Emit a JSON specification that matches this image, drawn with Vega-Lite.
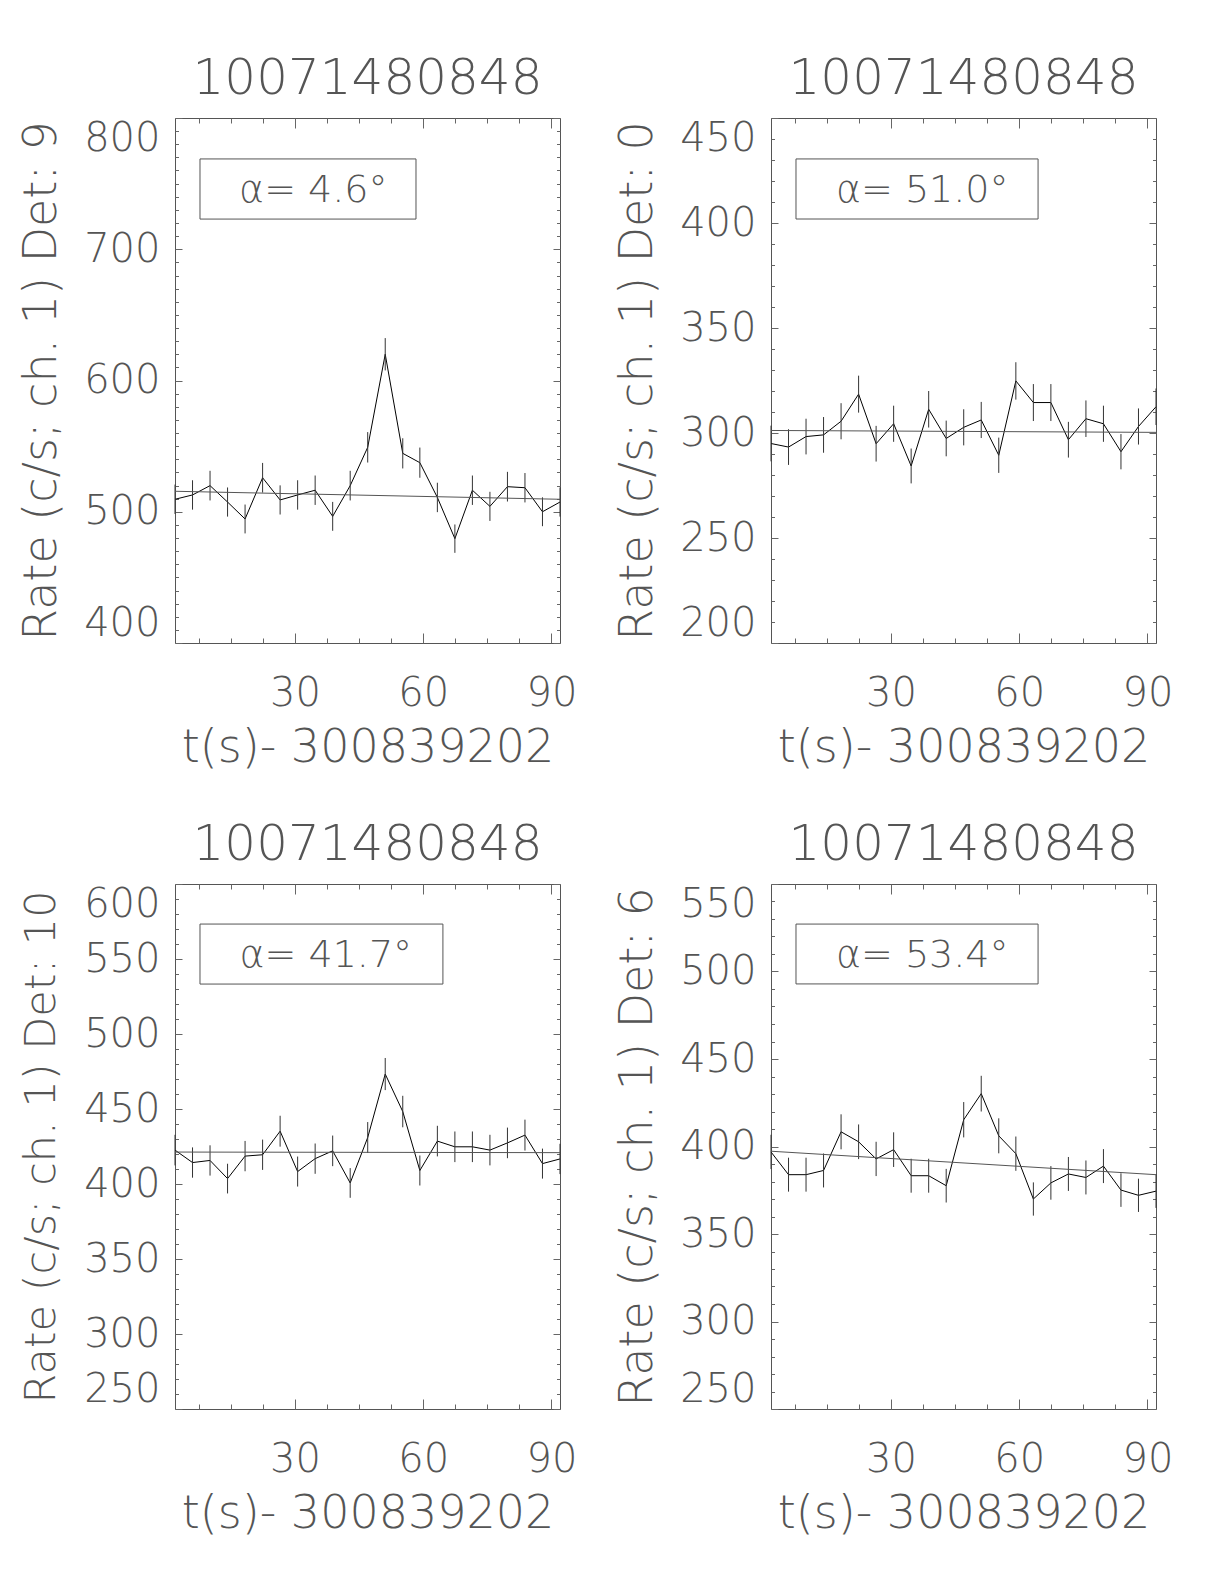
{
"$schema": "https://vega.github.io/schema/vega-lite/v6.json",
"padding": {"left": 18, "top": 53, "right": 0, "bottom": 0},
"background": "white",
"datasets": {
"lc": [
{"det":9,"t":1.9,"rate":509.5,"err":11.2},{"det":9,"t":6.0,"rate":512.8,"err":11.2},{"det":9,"t":10.1,"rate":519.9,"err":11.3},{"det":9,"t":14.2,"rate":507.4,"err":11.1},{"det":9,"t":18.3,"rate":494.5,"err":11.0},{"det":9,"t":22.4,"rate":525.9,"err":11.3},{"det":9,"t":26.5,"rate":509.0,"err":11.1},{"det":9,"t":30.6,"rate":512.8,"err":11.2},{"det":9,"t":34.7,"rate":516.4,"err":11.2},{"det":9,"t":38.8,"rate":496.5,"err":11.0},{"det":9,"t":42.9,"rate":519.9,"err":11.3},{"det":9,"t":47.0,"rate":549.1,"err":11.6},{"det":9,"t":51.1,"rate":620.0,"err":12.3},{"det":9,"t":55.2,"rate":544.5,"err":11.5},{"det":9,"t":59.2,"rate":537.4,"err":11.5},{"det":9,"t":63.3,"rate":510.9,"err":11.2},{"det":9,"t":67.4,"rate":479.5,"err":10.8},{"det":9,"t":71.5,"rate":516.4,"err":11.2},{"det":9,"t":75.6,"rate":504.1,"err":11.1},{"det":9,"t":79.7,"rate":519.1,"err":11.3},{"det":9,"t":83.8,"rate":518.3,"err":11.2},{"det":9,"t":87.9,"rate":500.0,"err":11.0},{"det":9,"t":92.0,"rate":507.4,"err":11.1},
{"det":0,"t":1.9,"rate":295.0,"err":8.5},{"det":0,"t":6.0,"rate":293.3,"err":8.5},{"det":0,"t":10.1,"rate":298.3,"err":8.5},{"det":0,"t":14.2,"rate":299.1,"err":8.5},{"det":0,"t":18.3,"rate":305.6,"err":8.6},{"det":0,"t":22.4,"rate":318.5,"err":8.8},{"det":0,"t":26.5,"rate":294.9,"err":8.5},{"det":0,"t":30.6,"rate":304.4,"err":8.6},{"det":0,"t":34.7,"rate":284.3,"err":8.3},{"det":0,"t":38.8,"rate":311.3,"err":8.7},{"det":0,"t":42.9,"rate":297.4,"err":8.5},{"det":0,"t":47.0,"rate":302.7,"err":8.6},{"det":0,"t":51.1,"rate":306.2,"err":8.6},{"det":0,"t":55.2,"rate":289.4,"err":8.4},{"det":0,"t":59.2,"rate":324.8,"err":8.9},{"det":0,"t":63.3,"rate":314.5,"err":8.8},{"det":0,"t":67.4,"rate":314.5,"err":8.8},{"det":0,"t":71.5,"rate":296.8,"err":8.5},{"det":0,"t":75.6,"rate":306.8,"err":8.7},{"det":0,"t":79.7,"rate":304.4,"err":8.6},{"det":0,"t":83.8,"rate":291.1,"err":8.4},{"det":0,"t":87.9,"rate":303.1,"err":8.6},{"det":0,"t":92.0,"rate":312.5,"err":8.7},
{"det":10,"t":1.9,"rate":422.6,"err":10.2},{"det":10,"t":6.0,"rate":414.3,"err":10.1},{"det":10,"t":10.1,"rate":415.7,"err":10.1},{"det":10,"t":14.2,"rate":403.6,"err":9.9},{"det":10,"t":18.3,"rate":418.6,"err":10.1},{"det":10,"t":22.4,"rate":419.5,"err":10.1},{"det":10,"t":26.5,"rate":435.2,"err":10.3},{"det":10,"t":30.6,"rate":408.3,"err":10.0},{"det":10,"t":34.7,"rate":416.9,"err":10.1},{"det":10,"t":38.8,"rate":422.1,"err":10.2},{"det":10,"t":42.9,"rate":400.7,"err":9.9},{"det":10,"t":47.0,"rate":431.0,"err":10.3},{"det":10,"t":51.1,"rate":473.3,"err":10.7},{"det":10,"t":55.2,"rate":448.3,"err":10.5},{"det":10,"t":59.2,"rate":409.0,"err":10.0},{"det":10,"t":63.3,"rate":428.6,"err":10.2},{"det":10,"t":67.4,"rate":424.8,"err":10.2},{"det":10,"t":71.5,"rate":424.8,"err":10.2},{"det":10,"t":75.6,"rate":422.6,"err":10.2},{"det":10,"t":79.7,"rate":427.4,"err":10.2},{"det":10,"t":83.8,"rate":432.6,"err":10.3},{"det":10,"t":87.9,"rate":413.6,"err":10.0},{"det":10,"t":92.0,"rate":416.7,"err":10.1},
{"det":6,"t":1.9,"rate":396.9,"err":9.8},{"det":6,"t":6.0,"rate":383.9,"err":9.7},{"det":6,"t":10.1,"rate":383.9,"err":9.7},{"det":6,"t":14.2,"rate":386.3,"err":9.7},{"det":6,"t":18.3,"rate":408.4,"err":10.0},{"det":6,"t":22.4,"rate":402.7,"err":9.9},{"det":6,"t":26.5,"rate":392.9,"err":9.8},{"det":6,"t":30.6,"rate":398.2,"err":9.9},{"det":6,"t":34.7,"rate":383.3,"err":9.7},{"det":6,"t":38.8,"rate":383.3,"err":9.7},{"det":6,"t":42.9,"rate":377.6,"err":9.6},{"det":6,"t":47.0,"rate":415.3,"err":10.1},{"det":6,"t":51.1,"rate":430.2,"err":10.2},{"det":6,"t":55.2,"rate":406.1,"err":10.0},{"det":6,"t":59.2,"rate":395.9,"err":9.8},{"det":6,"t":63.3,"rate":370.0,"err":9.5},{"det":6,"t":67.4,"rate":379.2,"err":9.6},{"det":6,"t":71.5,"rate":384.3,"err":9.7},{"det":6,"t":75.6,"rate":382.3,"err":9.7},{"det":6,"t":79.7,"rate":388.8,"err":9.7},{"det":6,"t":83.8,"rate":375.1,"err":9.6},{"det":6,"t":87.9,"rate":372.1,"err":9.5},{"det":6,"t":92.0,"rate":374.5,"err":9.6}
],
"fit": [
{"det":9,"t":1.9,"fit":515.6},{"det":9,"t":92.0,"fit":509.5},
{"det":0,"t":1.9,"fit":301.2},{"det":0,"t":92.0,"fit":300.3},
{"det":10,"t":1.9,"fit":421.3},{"det":10,"t":92.0,"fit":420.9},
{"det":6,"t":1.9,"fit":397.3},{"det":6,"t":92.0,"fit":383.9}
]
},
"columns": 2,
"spacing": {"row": 48, "column": 36},
"concat": [
{
"width": 385, "height": 525,
"title": {"text": "10071480848"},
"layer": [
{"data": {"name": "lc"}, "transform": [{"filter": "datum.det == 9"}],
 "mark": {"type": "line", "color": "#000", "strokeWidth": 1},
 "encoding": {
  "x": {"field": "t", "type": "quantitative", "scale": {"domain": [1.9, 92.0], "nice": false, "zero": false}, "axis": {"orient": "bottom", "values": [30, 60, 90], "ticks": false, "labelPadding": 30, "labelFlush": false, "title": "t(s)- 300839202", "titlePadding": 12}},
  "y": {"field": "rate", "type": "quantitative", "scale": {"domain": [400, 800], "nice": false, "zero": false}, "axis": {"orient": "left", "values": [400, 500, 600, 700, 800], "ticks": false, "labelPadding": 15, "labelFlush": true, "title": "Rate (c/s; ch. 1) Det: 9", "titlePadding": 18}}
 }},
{"data": {"name": "lc"}, "transform": [{"filter": "datum.det == 9"}],
 "mark": {"type": "errorbar", "color": "#333"},
 "encoding": {
  "x": {"field": "t", "type": "quantitative", "scale": {"domain": [1.9, 92.0], "nice": false, "zero": false}, "axis": {"orient": "bottom", "values": [30, 60, 90], "labels": false, "tickSize": -10, "title": null}},
  "y": {"field": "rate", "type": "quantitative", "scale": {"domain": [400, 800], "nice": false, "zero": false}, "axis": {"orient": "left", "values": [400, 500, 600, 700, 800], "labels": false, "tickSize": -7, "title": null}},
  "yError": {"field": "err"}
 }},
{"data": {"name": "fit"}, "transform": [{"filter": "datum.det == 9"}],
 "mark": {"type": "line", "color": "#555", "strokeWidth": 1},
 "encoding": {
  "x": {"field": "t", "type": "quantitative", "scale": {"domain": [1.9, 92.0], "nice": false, "zero": false}, "axis": {"orient": "bottom", "values": [7.5, 15, 22.5, 37.5, 45, 52.5, 67.5, 75, 82.5], "labels": false, "tickSize": -5, "title": null}},
  "y": {"field": "fit", "type": "quantitative", "scale": {"domain": [400, 800], "nice": false, "zero": false}, "axis": {"orient": "left", "values": [410,420,430,440,450,460,470,480,490,510,520,530,540,550,560,570,580,590,610,620,630,640,650,660,670,680,690,710,720,730,740,750,760,770,780,790], "labels": false, "tickSize": -3.5, "title": null}}
 }},
{"data": {"values": [{"label": "α= 4.6°"}]},
 "mark": {"type": "rect", "fill": null, "stroke": "#555", "strokeWidth": 1},
 "encoding": {
  "x": {"datum": 7.75, "type": "quantitative", "scale": {"domain": [1.9, 92.0], "nice": false, "zero": false}, "axis": {"orient": "top", "values": [30, 60, 90], "labels": false, "tickSize": -10, "title": null}},
  "x2": {"datum": 58.3},
  "y": {"datum": 768.8, "type": "quantitative", "scale": {"domain": [400, 800], "nice": false, "zero": false}, "axis": {"orient": "right", "values": [400, 500, 600, 700, 800], "labels": false, "tickSize": -7, "title": null}},
  "y2": {"datum": 723}
 }},
{"data": {"values": [{"label": "α= 4.6°"}]},
 "mark": {"type": "text", "align": "left", "baseline": "alphabetic", "fontSize": 38, "fontWeight": 200, "color": "#555", "font": "DejaVu Sans ExtraLight, DejaVu Sans"},
 "encoding": {
  "x": {"datum": 16.9, "type": "quantitative", "scale": {"domain": [1.9, 92.0], "nice": false, "zero": false}, "axis": {"orient": "top", "values": [7.5, 15, 22.5, 37.5, 45, 52.5, 67.5, 75, 82.5], "labels": false, "tickSize": -5, "title": null}},
  "y": {"datum": 736, "type": "quantitative", "scale": {"domain": [400, 800], "nice": false, "zero": false}, "axis": {"orient": "right", "values": [410,420,430,440,450,460,470,480,490,510,520,530,540,550,560,570,580,590,610,620,630,640,650,660,670,680,690,710,720,730,740,750,760,770,780,790], "labels": false, "tickSize": -3.5, "title": null}},
  "text": {"field": "label"}
 }}
],
"resolve": {"axis": {"x": "independent", "y": "independent"}}
},
{
"width": 385, "height": 525,
"title": {"text": "10071480848"},
"layer": [
{"data": {"name": "lc"}, "transform": [{"filter": "datum.det == 0"}],
 "mark": {"type": "line", "color": "#000", "strokeWidth": 1},
 "encoding": {
  "x": {"field": "t", "type": "quantitative", "scale": {"domain": [1.9, 92.0], "nice": false, "zero": false}, "axis": {"orient": "bottom", "values": [30, 60, 90], "ticks": false, "labelPadding": 30, "labelFlush": false, "title": "t(s)- 300839202", "titlePadding": 12}},
  "y": {"field": "rate", "type": "quantitative", "scale": {"domain": [200, 450], "nice": false, "zero": false}, "axis": {"orient": "left", "values": [200, 250, 300, 350, 400, 450], "ticks": false, "labelPadding": 15, "labelFlush": true, "title": "Rate (c/s; ch. 1) Det: 0", "titlePadding": 18}}
 }},
{"data": {"name": "lc"}, "transform": [{"filter": "datum.det == 0"}],
 "mark": {"type": "errorbar", "color": "#333"},
 "encoding": {
  "x": {"field": "t", "type": "quantitative", "scale": {"domain": [1.9, 92.0], "nice": false, "zero": false}, "axis": {"orient": "bottom", "values": [30, 60, 90], "labels": false, "tickSize": -10, "title": null}},
  "y": {"field": "rate", "type": "quantitative", "scale": {"domain": [200, 450], "nice": false, "zero": false}, "axis": {"orient": "left", "values": [200, 250, 300, 350, 400, 450], "labels": false, "tickSize": -7, "title": null}},
  "yError": {"field": "err"}
 }},
{"data": {"name": "fit"}, "transform": [{"filter": "datum.det == 0"}],
 "mark": {"type": "line", "color": "#555", "strokeWidth": 1},
 "encoding": {
  "x": {"field": "t", "type": "quantitative", "scale": {"domain": [1.9, 92.0], "nice": false, "zero": false}, "axis": {"orient": "bottom", "values": [7.5, 15, 22.5, 37.5, 45, 52.5, 67.5, 75, 82.5], "labels": false, "tickSize": -5, "title": null}},
  "y": {"field": "fit", "type": "quantitative", "scale": {"domain": [200, 450], "nice": false, "zero": false}, "axis": {"orient": "left", "values": [210,220,230,240,260,270,280,290,310,320,330,340,360,370,380,390,410,420,430,440], "labels": false, "tickSize": -3.5, "title": null}}
 }},
{"data": {"values": [{"label": "α= 51.0°"}]},
 "mark": {"type": "rect", "fill": null, "stroke": "#555", "strokeWidth": 1},
 "encoding": {
  "x": {"datum": 7.75, "type": "quantitative", "scale": {"domain": [1.9, 92.0], "nice": false, "zero": false}, "axis": {"orient": "top", "values": [30, 60, 90], "labels": false, "tickSize": -10, "title": null}},
  "x2": {"datum": 64.4},
  "y": {"datum": 430.5, "type": "quantitative", "scale": {"domain": [200, 450], "nice": false, "zero": false}, "axis": {"orient": "right", "values": [200, 250, 300, 350, 400, 450], "labels": false, "tickSize": -7, "title": null}},
  "y2": {"datum": 401.9}
 }},
{"data": {"values": [{"label": "α= 51.0°"}]},
 "mark": {"type": "text", "align": "left", "baseline": "alphabetic", "fontSize": 38, "fontWeight": 200, "color": "#555", "font": "DejaVu Sans ExtraLight, DejaVu Sans"},
 "encoding": {
  "x": {"datum": 17.1, "type": "quantitative", "scale": {"domain": [1.9, 92.0], "nice": false, "zero": false}, "axis": {"orient": "top", "values": [7.5, 15, 22.5, 37.5, 45, 52.5, 67.5, 75, 82.5], "labels": false, "tickSize": -5, "title": null}},
  "y": {"datum": 410.0, "type": "quantitative", "scale": {"domain": [200, 450], "nice": false, "zero": false}, "axis": {"orient": "right", "values": [210,220,230,240,260,270,280,290,310,320,330,340,360,370,380,390,410,420,430,440], "labels": false, "tickSize": -3.5, "title": null}},
  "text": {"field": "label"}
 }}
],
"resolve": {"axis": {"x": "independent", "y": "independent"}}
},
{
"width": 385, "height": 525,
"title": {"text": "10071480848"},
"layer": [
{"data": {"name": "lc"}, "transform": [{"filter": "datum.det == 10"}],
 "mark": {"type": "line", "color": "#000", "strokeWidth": 1},
 "encoding": {
  "x": {"field": "t", "type": "quantitative", "scale": {"domain": [1.9, 92.0], "nice": false, "zero": false}, "axis": {"orient": "bottom", "values": [30, 60, 90], "ticks": false, "labelPadding": 30, "labelFlush": false, "title": "t(s)- 300839202", "titlePadding": 12}},
  "y": {"field": "rate", "type": "quantitative", "scale": {"domain": [250, 600], "nice": false, "zero": false}, "axis": {"orient": "left", "values": [250, 300, 350, 400, 450, 500, 550, 600], "ticks": false, "labelPadding": 15, "labelFlush": true, "title": "Rate (c/s; ch. 1) Det: 10", "titlePadding": 20, "titleFontSize": 43}}
 }},
{"data": {"name": "lc"}, "transform": [{"filter": "datum.det == 10"}],
 "mark": {"type": "errorbar", "color": "#333"},
 "encoding": {
  "x": {"field": "t", "type": "quantitative", "scale": {"domain": [1.9, 92.0], "nice": false, "zero": false}, "axis": {"orient": "bottom", "values": [30, 60, 90], "labels": false, "tickSize": -10, "title": null}},
  "y": {"field": "rate", "type": "quantitative", "scale": {"domain": [250, 600], "nice": false, "zero": false}, "axis": {"orient": "left", "values": [250, 300, 350, 400, 450, 500, 550, 600], "labels": false, "tickSize": -7, "title": null}},
  "yError": {"field": "err"}
 }},
{"data": {"name": "fit"}, "transform": [{"filter": "datum.det == 10"}],
 "mark": {"type": "line", "color": "#555", "strokeWidth": 1},
 "encoding": {
  "x": {"field": "t", "type": "quantitative", "scale": {"domain": [1.9, 92.0], "nice": false, "zero": false}, "axis": {"orient": "bottom", "values": [7.5, 15, 22.5, 37.5, 45, 52.5, 67.5, 75, 82.5], "labels": false, "tickSize": -5, "title": null}},
  "y": {"field": "fit", "type": "quantitative", "scale": {"domain": [250, 600], "nice": false, "zero": false}, "axis": {"orient": "left", "values": [260,270,280,290,310,320,330,340,360,370,380,390,410,420,430,440,460,470,480,490,510,520,530,540,560,570,580,590], "labels": false, "tickSize": -3.5, "title": null}}
 }},
{"data": {"values": [{"label": "α= 41.7°"}]},
 "mark": {"type": "rect", "fill": null, "stroke": "#555", "strokeWidth": 1},
 "encoding": {
  "x": {"datum": 7.75, "type": "quantitative", "scale": {"domain": [1.9, 92.0], "nice": false, "zero": false}, "axis": {"orient": "top", "values": [30, 60, 90], "labels": false, "tickSize": -10, "title": null}},
  "x2": {"datum": 64.6},
  "y": {"datum": 573.3, "type": "quantitative", "scale": {"domain": [250, 600], "nice": false, "zero": false}, "axis": {"orient": "right", "values": [250, 300, 350, 400, 450, 500, 550, 600], "labels": false, "tickSize": -7, "title": null}},
  "y2": {"datum": 533.3}
 }},
{"data": {"values": [{"label": "α= 41.7°"}]},
 "mark": {"type": "text", "align": "left", "baseline": "alphabetic", "fontSize": 38, "fontWeight": 200, "color": "#555", "font": "DejaVu Sans ExtraLight, DejaVu Sans"},
 "encoding": {
  "x": {"datum": 17.0, "type": "quantitative", "scale": {"domain": [1.9, 92.0], "nice": false, "zero": false}, "axis": {"orient": "top", "values": [7.5, 15, 22.5, 37.5, 45, 52.5, 67.5, 75, 82.5], "labels": false, "tickSize": -5, "title": null}},
  "y": {"datum": 544.5, "type": "quantitative", "scale": {"domain": [250, 600], "nice": false, "zero": false}, "axis": {"orient": "right", "values": [260,270,280,290,310,320,330,340,360,370,380,390,410,420,430,440,460,470,480,490,510,520,530,540,560,570,580,590], "labels": false, "tickSize": -3.5, "title": null}},
  "text": {"field": "label"}
 }}
],
"resolve": {"axis": {"x": "independent", "y": "independent"}}
},
{
"width": 385, "height": 525,
"title": {"text": "10071480848"},
"layer": [
{"data": {"name": "lc"}, "transform": [{"filter": "datum.det == 6"}],
 "mark": {"type": "line", "color": "#000", "strokeWidth": 1},
 "encoding": {
  "x": {"field": "t", "type": "quantitative", "scale": {"domain": [1.9, 92.0], "nice": false, "zero": false}, "axis": {"orient": "bottom", "values": [30, 60, 90], "ticks": false, "labelPadding": 30, "labelFlush": false, "title": "t(s)- 300839202", "titlePadding": 12}},
  "y": {"field": "rate", "type": "quantitative", "scale": {"domain": [250, 550], "nice": false, "zero": false}, "axis": {"orient": "left", "values": [250, 300, 350, 400, 450, 500, 550], "ticks": false, "labelPadding": 15, "labelFlush": true, "title": "Rate (c/s; ch. 1) Det: 6", "titlePadding": 18}}
 }},
{"data": {"name": "lc"}, "transform": [{"filter": "datum.det == 6"}],
 "mark": {"type": "errorbar", "color": "#333"},
 "encoding": {
  "x": {"field": "t", "type": "quantitative", "scale": {"domain": [1.9, 92.0], "nice": false, "zero": false}, "axis": {"orient": "bottom", "values": [30, 60, 90], "labels": false, "tickSize": -10, "title": null}},
  "y": {"field": "rate", "type": "quantitative", "scale": {"domain": [250, 550], "nice": false, "zero": false}, "axis": {"orient": "left", "values": [250, 300, 350, 400, 450, 500, 550], "labels": false, "tickSize": -7, "title": null}},
  "yError": {"field": "err"}
 }},
{"data": {"name": "fit"}, "transform": [{"filter": "datum.det == 6"}],
 "mark": {"type": "line", "color": "#555", "strokeWidth": 1},
 "encoding": {
  "x": {"field": "t", "type": "quantitative", "scale": {"domain": [1.9, 92.0], "nice": false, "zero": false}, "axis": {"orient": "bottom", "values": [7.5, 15, 22.5, 37.5, 45, 52.5, 67.5, 75, 82.5], "labels": false, "tickSize": -5, "title": null}},
  "y": {"field": "fit", "type": "quantitative", "scale": {"domain": [250, 550], "nice": false, "zero": false}, "axis": {"orient": "left", "values": [260,270,280,290,310,320,330,340,360,370,380,390,410,420,430,440,460,470,480,490,510,520,530,540], "labels": false, "tickSize": -3.5, "title": null}}
 }},
{"data": {"values": [{"label": "α= 53.4°"}]},
 "mark": {"type": "rect", "fill": null, "stroke": "#555", "strokeWidth": 1},
 "encoding": {
  "x": {"datum": 7.75, "type": "quantitative", "scale": {"domain": [1.9, 92.0], "nice": false, "zero": false}, "axis": {"orient": "top", "values": [30, 60, 90], "labels": false, "tickSize": -10, "title": null}},
  "x2": {"datum": 64.4},
  "y": {"datum": 527.1, "type": "quantitative", "scale": {"domain": [250, 550], "nice": false, "zero": false}, "axis": {"orient": "right", "values": [250, 300, 350, 400, 450, 500, 550], "labels": false, "tickSize": -7, "title": null}},
  "y2": {"datum": 492.9}
 }},
{"data": {"values": [{"label": "α= 53.4°"}]},
 "mark": {"type": "text", "align": "left", "baseline": "alphabetic", "fontSize": 38, "fontWeight": 200, "color": "#555", "font": "DejaVu Sans ExtraLight, DejaVu Sans"},
 "encoding": {
  "x": {"datum": 17.1, "type": "quantitative", "scale": {"domain": [1.9, 92.0], "nice": false, "zero": false}, "axis": {"orient": "top", "values": [7.5, 15, 22.5, 37.5, 45, 52.5, 67.5, 75, 82.5], "labels": false, "tickSize": -5, "title": null}},
  "y": {"datum": 502.4, "type": "quantitative", "scale": {"domain": [250, 550], "nice": false, "zero": false}, "axis": {"orient": "right", "values": [260,270,280,290,310,320,330,340,360,370,380,390,410,420,430,440,460,470,480,490,510,520,530,540], "labels": false, "tickSize": -3.5, "title": null}},
  "text": {"field": "label"}
 }}
],
"resolve": {"axis": {"x": "independent", "y": "independent"}}
}
],
"config": {
  "font": "DejaVu Sans ExtraLight, DejaVu Sans",
  "view": {"stroke": "#555", "strokeWidth": 1},
  "axis": {"domain": false, "grid": false, "labelFont": "DejaVu Sans ExtraLight, DejaVu Sans", "labelFontSize": 40, "labelFontWeight": 200, "labelColor": "#555", "titleFont": "DejaVu Sans ExtraLight, DejaVu Sans", "titleFontSize": 46, "titleFontWeight": 200, "titleColor": "#555", "tickColor": "#666", "tickWidth": 1, "labelOverlap": false},
  "title": {"font": "DejaVu Sans ExtraLight, DejaVu Sans", "fontSize": 50, "fontWeight": 200, "color": "#555", "offset": 14, "anchor": "middle"}
}
}
